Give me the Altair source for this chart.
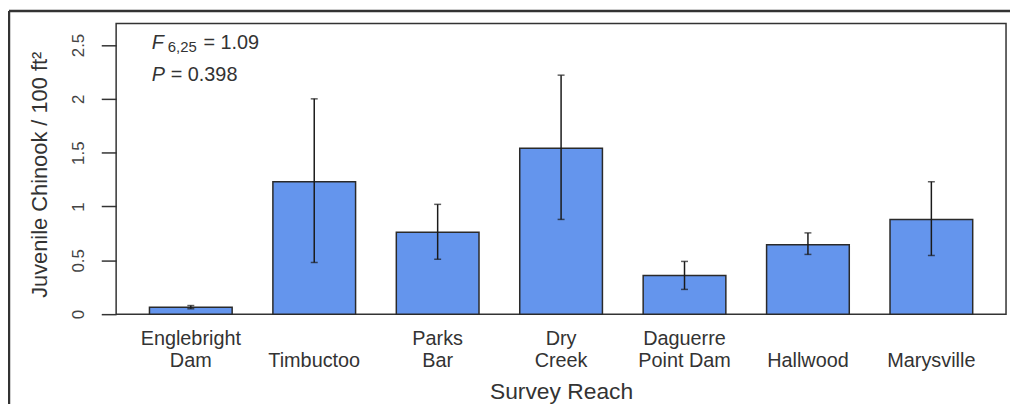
import altair as alt
import pandas as pd
import json

reaches = ["Englebright Dam", "Timbuctoo", "Parks Bar", "Dry Creek",
           "Daguerre Point Dam", "Hallwood", "Marysville"]
tick_lines = [["Englebright", "Dam"], ["\u00a0", "Timbuctoo"], ["Parks", "Bar"],
              ["Dry", "Creek"], ["Daguerre", "Point Dam"], ["\u00a0", "Hallwood"],
              ["\u00a0", "Marysville"]]
means = [0.065, 1.23, 0.76, 1.54, 0.36, 0.645, 0.88]
lower = [0.05, 0.48, 0.51, 0.88, 0.23, 0.555, 0.545]
upper = [0.08, 2.00, 1.02, 2.22, 0.49, 0.755, 1.23]
y_ticks = [0, 0.5, 1, 1.5, 2, 2.5]

df = pd.DataFrame({"reach": reaches, "mean": means, "lo": lower, "hi": upper})

label_map = json.dumps({r: l for r, l in zip(reaches, tick_lines)})

FONT = "Liberation Sans"
TXT = "#333333"

x_enc = alt.X("reach:N", sort=reaches,
              scale=alt.Scale(paddingInner=0.33, paddingOuter=0.27),
              axis=alt.Axis(title="Survey Reach", labelExpr=f"{label_map}[datum.value]",
                            labelAngle=0, labelFontSize=20, labelLineHeight=22,
                            labelColor=TXT, labelFont=FONT, labelPadding=15,
                            labelBaseline="top",
                            ticks=False, domain=False,
                            titleFontSize=23, titleFont=FONT, titleColor=TXT,
                            titleFontWeight="normal", titleY=78,
                            titleBaseline="middle"))

y_scale = alt.Scale(domain=[0, 2.7], nice=False, zero=True)

bars = alt.Chart(df).mark_bar(color="#6495ED", stroke="#2a2a2a",
                              strokeWidth=1.5).encode(
    x=x_enc,
    y=alt.Y("mean:Q", scale=y_scale,
            axis=alt.Axis(title="Juvenile Chinook  /  100 ft\u00b2", values=y_ticks,
                          labelExpr="datum.value + ''",
                          labelAngle=270, labelAlign="center",
                          labelBaseline="middle", labelFontSize=17,
                          labelColor="#444444", labelFont=FONT, labelPadding=23,
                          tickSize=15, tickColor="#333333", tickWidth=1.5,
                          domain=False, grid=False,
                          titleFontSize=22, titleFont=FONT, titleColor=TXT,
                          titleFontWeight="normal", titleX=-77, titleY=152,
                          titleAngle=270, titleBaseline="middle",
                          titleAlign="center")),
)

err = alt.Chart(df).mark_rule(color="#1a1a1a", strokeWidth=1.5).encode(
    x=alt.X("reach:N", sort=reaches),
    y=alt.Y("lo:Q", scale=y_scale),
    y2="hi:Q",
)
cap_lo = alt.Chart(df).mark_tick(color="#1a1a1a", size=7, thickness=1.5).encode(
    x=alt.X("reach:N", sort=reaches), y=alt.Y("lo:Q", scale=y_scale))
cap_hi = alt.Chart(df).mark_tick(color="#1a1a1a", size=7, thickness=1.5).encode(
    x=alt.X("reach:N", sort=reaches), y=alt.Y("hi:Q", scale=y_scale))

ann = pd.DataFrame({"t": ["x"]})
f_txt = alt.Chart(ann).mark_text(text="F", font=FONT, fontSize=20, fontStyle="italic",
                                 align="left", baseline="middle", color=TXT).encode(
    x=alt.value(36), y=alt.value(20))
f_sub = alt.Chart(ann).mark_text(text="6,25", font=FONT, fontSize=15,
                                 align="left", baseline="middle", color=TXT).encode(
    x=alt.value(52), y=alt.value(24))
f_val = alt.Chart(ann).mark_text(text="= 1.09", font=FONT, fontSize=20,
                                 align="left", baseline="middle", color=TXT).encode(
    x=alt.value(88), y=alt.value(20))
p_txt = alt.Chart(ann).mark_text(text="P", font=FONT, fontSize=20, fontStyle="italic",
                                 align="left", baseline="middle", color=TXT).encode(
    x=alt.value(36), y=alt.value(52))
p_val = alt.Chart(ann).mark_text(text="= 0.398", font=FONT, fontSize=20,
                                 align="left", baseline="middle", color=TXT).encode(
    x=alt.value(55), y=alt.value(52))

frame_top = alt.Chart(ann).mark_rule(color="#333333", strokeWidth=2.5).encode(
    x=alt.value(-108), x2=alt.value(1000), y=alt.value(-12.5))
frame_left = alt.Chart(ann).mark_rule(color="#333333", strokeWidth=2.5).encode(
    x=alt.value(-108), y=alt.value(-12.5), y2=alt.value(500))

chart = alt.layer(bars, err, cap_lo, cap_hi, f_txt, f_sub, f_val, p_txt, p_val,
                  frame_top, frame_left).properties(
    width=897, height=293,
    autosize=alt.AutoSizeParams(type="none"),
    padding={"left": 109, "top": 14, "right": 4, "bottom": 95},
).configure(background="white").configure_view(stroke="#333333", strokeWidth=1.5)

chart.save("out.html", embed_options={"renderer": "svg", "actions": False})
